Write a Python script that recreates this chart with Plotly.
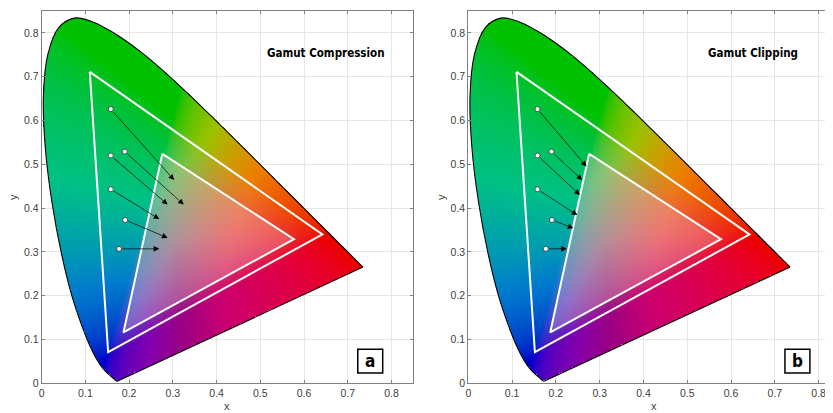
import numpy as np
import plotly.graph_objects as go
import zlib, struct, base64

# ---------------- data ----------------
# CIE 1931 spectral locus (380-700 nm, 5 nm steps)
locus_x = [0.1741, 0.1740, 0.1738, 0.1736, 0.1733, 0.1730, 0.1726, 0.1721, 0.1714, 0.1703,
           0.1689, 0.1669, 0.1644, 0.1611, 0.1566, 0.1510, 0.1440, 0.1355, 0.1241, 0.1096,
           0.0913, 0.0687, 0.0454, 0.0235, 0.0082, 0.0039, 0.0139, 0.0389, 0.0743, 0.1142,
           0.1547, 0.1929, 0.2296, 0.2658, 0.3016, 0.3373, 0.3731, 0.4087, 0.4441, 0.4788,
           0.5125, 0.5448, 0.5752, 0.6029, 0.6270, 0.6482, 0.6658, 0.6801, 0.6915, 0.7006,
           0.7079, 0.7140, 0.7190, 0.7230, 0.7260, 0.7283, 0.7300, 0.7311, 0.7320, 0.7327,
           0.7334, 0.7340, 0.7344, 0.7346, 0.7347]
locus_y = [0.0050, 0.0050, 0.0049, 0.0049, 0.0048, 0.0048, 0.0048, 0.0048, 0.0051, 0.0058,
           0.0069, 0.0086, 0.0109, 0.0138, 0.0177, 0.0227, 0.0297, 0.0399, 0.0578, 0.0868,
           0.1327, 0.2007, 0.2950, 0.4127, 0.5384, 0.6548, 0.7502, 0.8120, 0.8338, 0.8262,
           0.8059, 0.7816, 0.7543, 0.7243, 0.6923, 0.6589, 0.6245, 0.5896, 0.5547, 0.5202,
           0.4866, 0.4544, 0.4242, 0.3965, 0.3725, 0.3514, 0.3340, 0.3197, 0.3083, 0.2993,
           0.2920, 0.2859, 0.2809, 0.2770, 0.2740, 0.2717, 0.2700, 0.2689, 0.2680, 0.2673,
           0.2666, 0.2660, 0.2656, 0.2654, 0.2653]

# gamut triangles (x, y of primaries)
outer_x = [0.110, 0.642, 0.152]
outer_y = [0.711, 0.340, 0.071]
inner_x = [0.276, 0.577, 0.187]
inner_y = [0.524, 0.329, 0.116]

# source colour points (same in both panels)
src_x = [0.158, 0.190, 0.158, 0.158, 0.191, 0.177]
src_y = [0.626, 0.529, 0.520, 0.443, 0.373, 0.307]
# mapped colours: compression (a) and clipping (b)
comp_x = [0.303, 0.325, 0.288, 0.269, 0.288, 0.269]
comp_y = [0.464, 0.408, 0.408, 0.375, 0.332, 0.307]
clip_x = [0.270, 0.260, 0.255, 0.249, 0.240, 0.225]
clip_y = [0.495, 0.464, 0.430, 0.384, 0.354, 0.307]

titles = ["Gamut Compression", "Gamut Clipping"]
panel_labels = ["a", "b"]
tick_vals = [0, 0.1, 0.2, 0.3, 0.4, 0.5, 0.6, 0.7, 0.8]
tick_text = ["0", "0.1", "0.2", "0.3", "0.4", "0.5", "0.6", "0.7", "0.8"]


# ---------------- chromaticity background image ----------------
def catmull(xs, ys, sub=12):
    P = np.column_stack([xs, ys])
    P = np.vstack([P[0], P, P[-1]])
    out = []
    for i in range(1, len(P) - 2):
        p0, p1, p2, p3 = P[i - 1], P[i], P[i + 1], P[i + 2]
        for t in np.linspace(0, 1, sub, endpoint=False):
            t2, t3 = t * t, t * t * t
            out.append(0.5 * ((2 * p1) + (-p0 + p2) * t + (2 * p0 - 5 * p1 + 4 * p2 - p3) * t2
                              + (-p0 + 3 * p1 - 3 * p2 + p3) * t3))
    out.append(P[-2])
    out = np.array(out)
    return out[:, 0], out[:, 1]


N = 425
step = 0.85 / N
cx = (np.arange(N) + 0.5) * step
XX, YY = np.meshgrid(cx, cx)  # row 0 = smallest y


def inside_poly(px, py, vx, vy):
    vx = np.asarray(vx); vy = np.asarray(vy)
    res = np.zeros(px.shape, dtype=bool)
    n = len(vx)
    j = n - 1
    for i in range(n):
        xi, yi, xj, yj = vx[i], vy[i], vx[j], vy[j]
        cond = ((yi > py) != (yj > py))
        with np.errstate(divide='ignore', invalid='ignore'):
            xint = (xj - xi) * (py - yi) / (yj - yi + 1e-12) + xi
        res ^= cond & (px < xint)
        j = i
    return res


sx, sy = catmull(locus_x, locus_y)
mask = inside_poly(XX, YY, sx, sy)
inner_mask = inside_poly(XX, YY, inner_x, inner_y)

Yv = np.ones_like(XX)
Xv = XX / np.maximum(YY, 1e-6)
Zv = (1 - XX - YY) / np.maximum(YY, 1e-6)
M = np.array([[3.2406, -1.5372, -0.4986],
              [-0.9689, 1.8758, 0.0415],
              [0.0557, -0.2040, 1.0570]])
lin = np.stack([M[r, 0] * Xv + M[r, 1] * Yv + M[r, 2] * Zv for r in range(3)], axis=-1)
lin = np.clip(lin, 0, None)
s = lin.sum(axis=-1, keepdims=True)
c = np.clip(lin / np.maximum(s, 1e-9) * 1.5, 0, 1)
f = 1 - 0.3 * np.clip(np.minimum(c[..., 0], c[..., 2]) - c[..., 1], 0, 1)
g = c ** (1 / 1.6)
k = np.array([0.93, 0.76, 0.80])
rgb = g * k * f[..., None]
rgb[inner_mask] = rgb[inner_mask] * 0.72 + k * 0.28
rgba = np.zeros((N, N, 4), dtype=np.uint8)
rgba[..., :3] = np.clip(rgb * 255, 0, 255).astype(np.uint8)
rgba[..., 3] = np.where(mask, 255, 0).astype(np.uint8)


def png_uri(arr):
    h, w, _ = arr.shape
    raw = b''.join(b'\x00' + arr[i].tobytes() for i in range(h))

    def chunk(t, d):
        return struct.pack('>I', len(d)) + t + d + struct.pack('>I', zlib.crc32(t + d) & 0xffffffff)
    data = (b'\x89PNG\r\n\x1a\n' + chunk(b'IHDR', struct.pack('>IIBBBBB', w, h, 8, 6, 0, 0, 0))
            + chunk(b'IDAT', zlib.compress(raw, 9)) + chunk(b'IEND', b''))
    return 'data:image/png;base64,' + base64.b64encode(data).decode()


img_src = png_uri(rgba)

# ---------------- figure ----------------
fig = go.Figure()
narrow = "DejaVu Sans Condensed, Liberation Sans Narrow, Arial Narrow, sans-serif"
axis_font = dict(family="Liberation Sans, Arial, sans-serif", size=10.5, color="#404040")

ends = [(comp_x, comp_y), (clip_x, clip_y)]
for p in range(2):
    xa = 'x' if p == 0 else 'x2'
    ya = 'y' if p == 0 else 'y2'
    fig.add_trace(go.Image(source=img_src, x0=step / 2, dx=step, y0=step / 2, dy=step,
                           xaxis=xa, yaxis=ya, hoverinfo='skip'))
    # spectral locus (smooth curve) and purple line
    fig.add_trace(go.Scatter(x=locus_x, y=locus_y, mode='lines',
                             line=dict(color='black', width=1.1, shape='spline', smoothing=1),
                             xaxis=xa, yaxis=ya, showlegend=False, hoverinfo='skip'))
    fig.add_trace(go.Scatter(x=[locus_x[-1], locus_x[0]], y=[locus_y[-1], locus_y[0]], mode='lines',
                             line=dict(color='black', width=1.1),
                             xaxis=xa, yaxis=ya, showlegend=False, hoverinfo='skip'))
    for tx, ty in [(outer_x, outer_y), (inner_x, inner_y)]:
        fig.add_trace(go.Scatter(x=tx + [tx[0]], y=ty + [ty[0]], mode='lines',
                                 line=dict(color='white', width=2), xaxis=xa, yaxis=ya,
                                 showlegend=False, hoverinfo='skip'))
    ex, ey = ends[p]
    for i in range(len(src_x)):
        fig.add_annotation(x=ex[i], y=ey[i], ax=src_x[i], ay=src_y[i], xref=xa, yref=ya,
                           axref=xa, ayref=ya, text='', showarrow=True, arrowhead=2,
                           arrowsize=1.6, arrowwidth=0.7, arrowcolor='black',
                           standoff=0, startstandoff=2)
    fig.add_trace(go.Scatter(x=src_x, y=src_y, mode='markers',
                             marker=dict(symbol='circle', size=5, color='white',
                                         line=dict(color='#333333', width=0.8)),
                             xaxis=xa, yaxis=ya, showlegend=False, hoverinfo='skip'))
    fig.add_annotation(x=0.65, y=0.753, xref=xa, yref=ya, text='<b>' + titles[p] + '</b>',
                       showarrow=False, font=dict(family=narrow, size=11.5, color='black'))
    fig.add_shape(type='rect', x0=0.723, x1=0.780, y0=0.0235, y1=0.078, xref=xa, yref=ya,
                  line=dict(color='black', width=1.5), fillcolor='white')
    fig.add_annotation(x=0.7515, y=0.051, xref=xa, yref=ya, text='<b>' + panel_labels[p] + '</b>',
                       showarrow=False, font=dict(family=narrow, size=17, color='black'))

H = 413.0
W = 833.0
OFF = 8.0  # page body margin in the browser
ydom = [(413 - (383.3 - OFF)) / H, (413 - (11 - OFF)) / H]
common_axis = dict(showgrid=True, gridcolor='#e6e6e6', gridwidth=1, zeroline=False,
                   showline=True, linecolor='#808080', linewidth=1, ticks='inside',
                   ticklen=3, tickcolor='#808080', tickfont=axis_font,
                   tickvals=tick_vals, ticktext=tick_text, automargin=False)
fig.update_layout(
    width=833, height=413, margin=dict(l=0, r=0, t=0, b=0, autoexpand=False),
    paper_bgcolor='white', plot_bgcolor='white', showlegend=False,
    xaxis=dict(domain=[(41.7 - OFF) / W, (413.3 - OFF) / W], range=[0, 0.85], mirror='ticks', **common_axis),
    yaxis=dict(domain=ydom, range=[0, 0.85], mirror='ticks', scaleanchor=False, **common_axis),
    xaxis2=dict(domain=[(468.3 - OFF) / W, 1.0], range=[0, 0.851], mirror='ticks', anchor='y2', **common_axis),
    yaxis2=dict(domain=ydom, range=[0, 0.85], mirror='ticks', anchor='x2', scaleanchor=False, **common_axis),
)
# axis titles (x labels: top of box given; y labels: left of box given)
lab_font = dict(family="Liberation Sans, Arial, sans-serif", size=11, color='#404040')
for xpx in [226.7, 654.3]:
    fig.add_annotation(x=(xpx - OFF) / W, y=1 - (398.5 - OFF) / H, xref='paper', yref='paper', text='x',
                       showarrow=False, xanchor='center', yanchor='top', borderpad=0, font=lab_font)
for xpx in [5.0, 433.0]:
    fig.add_annotation(x=(xpx - OFF) / W, y=1 - (197 - OFF) / H, xref='paper', yref='paper', text='y',
                       showarrow=False, textangle=-90, xanchor='left', yanchor='middle', font=lab_font)

fig.write_html("out.html")
